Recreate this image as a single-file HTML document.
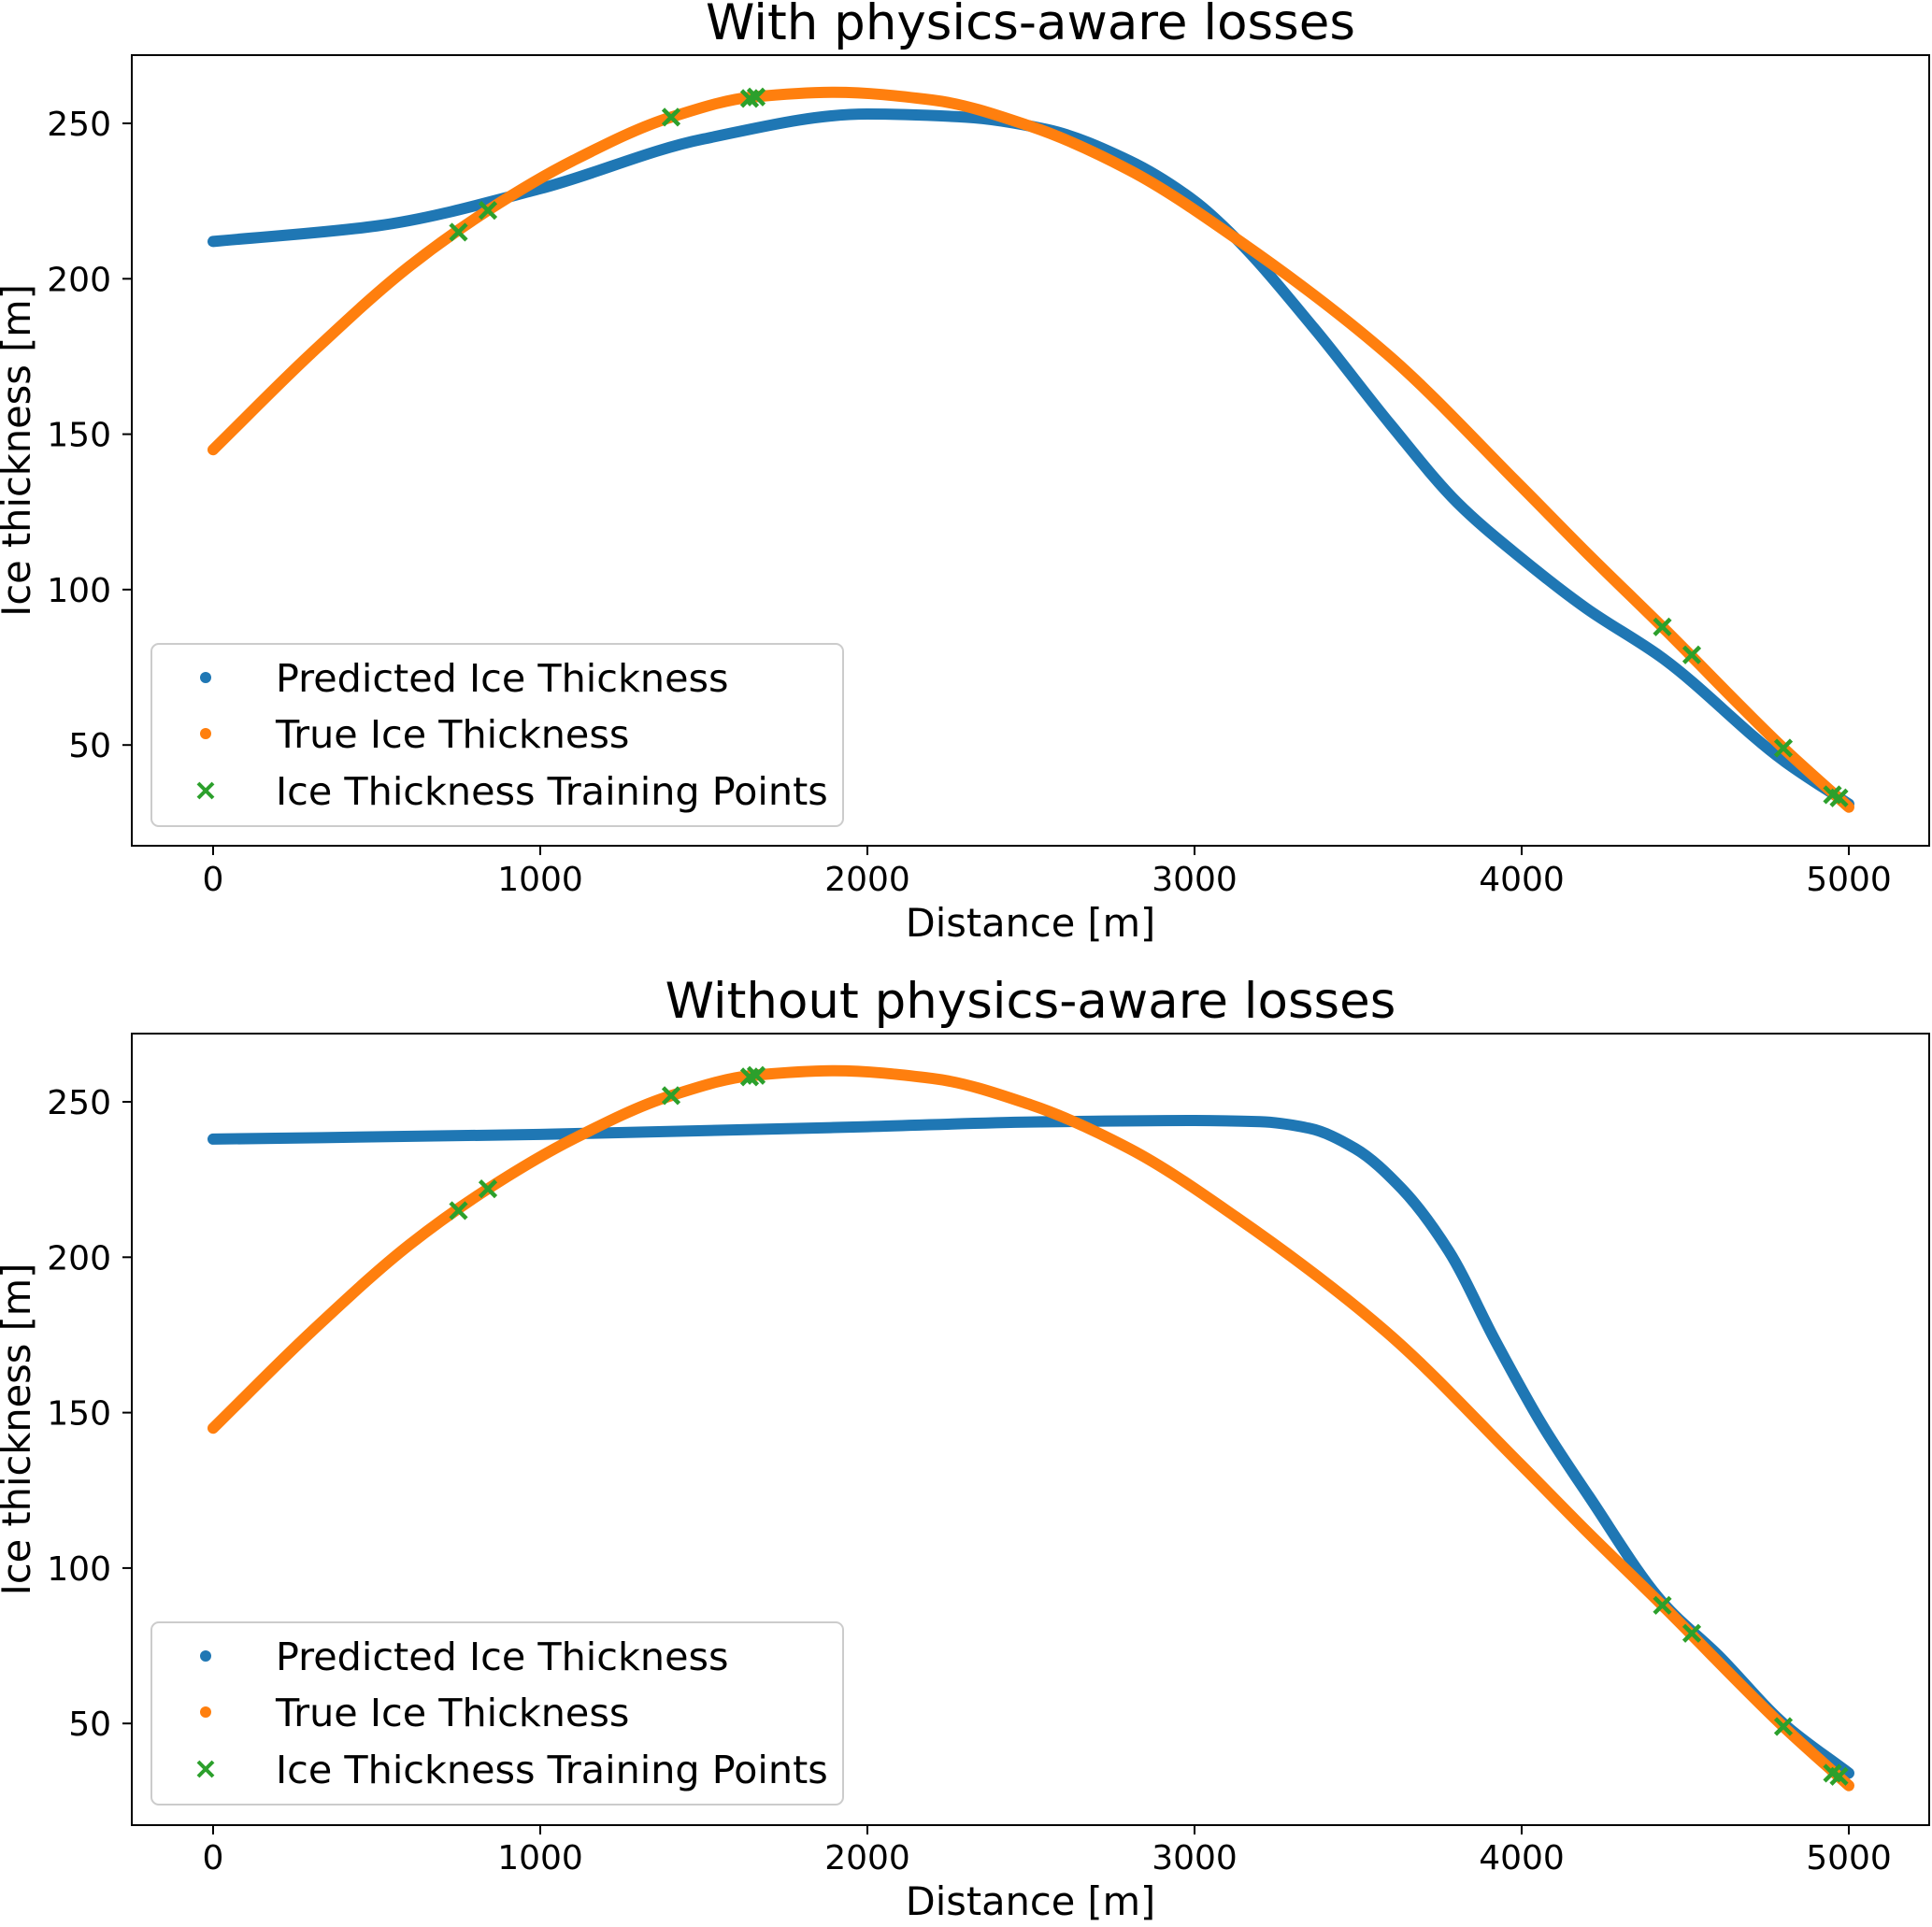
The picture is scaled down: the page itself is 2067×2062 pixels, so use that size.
<!DOCTYPE html>
<html><head><meta charset="utf-8"><style>
html,body{margin:0;padding:0;background:#fff;}
svg text{font-family:"DejaVu Sans","Liberation Sans",sans-serif;fill:#000;}
</style></head><body>
<svg id="fig" width="2067" height="2057" viewBox="0 0 2067 2057" xmlns="http://www.w3.org/2000/svg"></svg>
<script>
// ---- data ----
const xTicks = [0, 1000, 2000, 3000, 4000, 5000];
const yTicks = [50, 100, 150, 200, 250];
const trueX = [0, 300, 600, 840, 1100, 1400, 1650, 1900, 2200, 2500, 2800, 3126, 3586, 4000, 4197, 4430, 4800, 5000];
const trueY = [145, 176, 204, 222, 238, 252, 258.5, 260, 257.5, 249, 235, 213, 176, 133, 112, 88, 49, 30];
const predWithX = [0, 500, 1000, 1500, 2000, 2300, 2550, 2800, 3000, 3126, 3366, 3600, 3803, 4000, 4197, 4430, 4800, 5000];
const predWithY = [212, 217, 229, 245, 253, 252, 248, 238, 225, 213, 184, 153, 128, 110, 94, 78, 45, 31];
const predWithoutX = [0, 1000, 2000, 2500, 3000, 3200, 3350, 3491, 3634, 3777, 3920, 4063, 4206, 4430, 4600, 4800, 5000];
const predWithoutY = [238, 239.5, 242, 243.5, 244, 243.6, 241.5, 235, 222, 202, 173, 146, 123, 89, 72, 50, 34];
const trainX = [750, 840, 1400, 1640, 1660, 4430, 4520, 4800, 4950, 4970];
const trainY = [215, 222, 252, 258, 258.5, 88, 79, 49, 34, 33];
const titles = ["With physics-aware losses", "Without physics-aware losses"];
const legendLabels = ["Predicted Ice Thickness", "True Ice Thickness", "Ice Thickness Training Points"];

const NS = "http://www.w3.org/2000/svg";
const svg = document.getElementById('fig');
function mk(tag, attrs, parent){ const e=document.createElementNS(NS,tag); for(const k in attrs) e.setAttribute(k,attrs[k]); (parent||svg).appendChild(e); return e; }

const L=141, R=2064;
const panels=[{top:59,bottom:905,off:0},{top:1106,bottom:1953,off:1047}];
const sx = v => 228 + v*0.35;

function smoothPath(xs, ys, fx, fy){
  const n=xs.length, d=[], m=new Array(n);
  for(let i=0;i<n-1;i++) d.push((ys[i+1]-ys[i])/(xs[i+1]-xs[i]));
  m[0]=d[0]; m[n-1]=d[n-2];
  for(let i=1;i<n-1;i++){
    if(d[i-1]*d[i]<=0) m[i]=0;
    else { const h0=xs[i]-xs[i-1], h1=xs[i+1]-xs[i]; const w1=2*h1+h0, w2=h1+2*h0; m[i]=(w1+w2)/(w1/d[i-1]+w2/d[i]); }
  }
  let s=`M${fx(xs[0])},${fy(ys[0])}`;
  for(let i=0;i<n-1;i++){
    const h=(xs[i+1]-xs[i])/3;
    s+=` C${fx(xs[i]+h)},${fy(ys[i]+m[i]*h)} ${fx(xs[i+1]-h)},${fy(ys[i+1]-m[i+1]*h)} ${fx(xs[i+1])},${fy(ys[i+1])}`;
  }
  return s;
}

panels.forEach((P, idx)=>{
  const sy = v => 132 + P.off + (250 - v)*3.326;
  const g = mk('g', {});
  
  

  const title = mk('text', {x:(L+R)/2, y:42+P.off, 'font-size':53, 'text-anchor':'middle'}, g);
  title.textContent = titles[idx];
  
  

  const predX = idx===0 ? predWithX : predWithoutX;
  const predY = idx===0 ? predWithY : predWithoutY;
  const pb = mk('path', {d:smoothPath(predX, predY, sx, sy), fill:'none', stroke:'#1f77b4', 'stroke-width':12, 'stroke-linecap':'round', 'stroke-linejoin':'round'}, g);
  
  
  const po = mk('path', {d:smoothPath(trueX, trueY, sx, sy), fill:'none', stroke:'#ff7f0e', 'stroke-width':12, 'stroke-linecap':'round', 'stroke-linejoin':'round'}, g);
  
  

  trainX.forEach((x,i)=>{
    const cx=sx(x), cy=sy(trainY[i]), s=8.5;
    const m = mk('path', {d:`M${cx-s},${cy-s}L${cx+s},${cy+s}M${cx-s},${cy+s}L${cx+s},${cy-s}`, stroke:'#2ca02c', 'stroke-width':4.5, fill:'none'}, g);
    
    
  });

  const fr = mk('rect', {x:L, y:P.top, width:R-L, height:P.bottom-P.top, fill:'none', stroke:'#000', 'stroke-width':2}, g);
  
  

  xTicks.forEach(t=>{
    const x=sx(t);
    const tl = mk('line', {x1:x, x2:x, y1:P.bottom, y2:P.bottom+10, stroke:'#000', 'stroke-width':2}, g);
    
    
    const tx = mk('text', {x:x, y:953+P.off, 'font-size':36, 'text-anchor':'middle'}, g);
    tx.textContent = t;
    
    
  });
  yTicks.forEach(t=>{
    const y=sy(t);
    const tl = mk('line', {x1:L-10, x2:L, y1:y, y2:y, stroke:'#000', 'stroke-width':2}, g);
    
    
    const tx = mk('text', {x:119, y:y+13, 'font-size':36, 'text-anchor':'end'}, g);
    tx.textContent = t;
    
    
  });

  const xl = mk('text', {x:(L+R)/2, y:1002+P.off, 'font-size':41.5, 'text-anchor':'middle'}, g);
  xl.textContent = 'Distance [m]';
  
  
  const cy = (P.top+P.bottom)/2;
  const yl = mk('text', {x:0, y:0, 'font-size':41.5, 'text-anchor':'middle', transform:`translate(32,${cy}) rotate(-90)`}, g);
  yl.textContent = 'Ice thickness [m]';
  
  

  const lg = mk('g', {}, g);
  
  
  mk('rect', {x:162, y:689+P.off, width:740, height:195, rx:8, fill:'#fff', 'fill-opacity':0.8, stroke:'#ccc', 'stroke-width':2}, lg);
  const rows=[725,785,846];
  const cols=['#1f77b4','#ff7f0e','#2ca02c'];
  legendLabels.forEach((lab,i)=>{
    const ry = rows[i]+P.off;
    const e = mk('g', {}, lg);
    
    
    if(i<2){ mk('circle', {cx:220, cy:ry, r:6, fill:cols[i]}, e); }
    else { mk('path', {d:`M212,${ry-8}L228,${ry+8}M212,${ry+8}L228,${ry-8}`, stroke:cols[i], 'stroke-width':4}, e); }
    const t = mk('text', {x:295, y:ry+15, 'font-size':41.3}, e);
    t.textContent = lab;
  });
});
</script>
</body></html>
